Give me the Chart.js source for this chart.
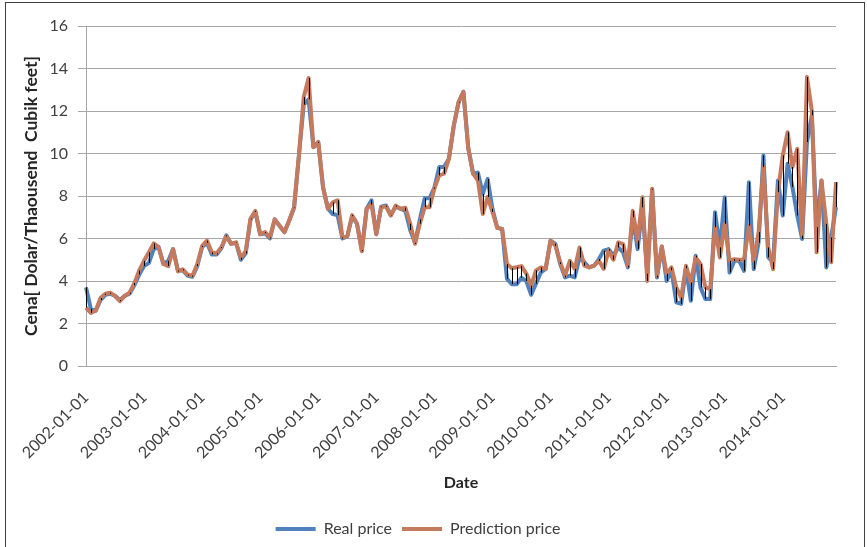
<html>
<head>
<script src="https://cdn.jsdelivr.net/npm/chart.js@4.4.3/dist/chart.umd.min.js"></script>
<style>
  body { margin: 0; background: #fff; }
  #wrap { width: 867px; height: 547px; }
</style>
</head>
<body>
<div id="wrap"><canvas id="mychart" width="867" height="547"></canvas></div>
<script>
    // monthly, 2002-01 .. 2014-12
    const years = [2002, 2003, 2004, 2005, 2006, 2007, 2008, 2009, 2010, 2011, 2012, 2013, 2014];
    const months = ['01', '02', '03', '04', '05', '06', '07', '08', '09', '10', '11', '12'];

    const real_price = [
        3.7, 2.7, 2.6, 3.1, 3.35, 3.4, 3.3, 3.1, 3.3, 3.4, 3.8, 4.3,
        4.7, 4.85, 5.5, 5.6, 4.8, 4.95, 5.5, 4.5, 4.5, 4.25, 4.2, 4.7,
        5.6, 5.8, 5.25, 5.25, 5.55, 6.15, 5.75, 5.8, 5.0, 5.3, 6.9, 7.25,
        6.2, 6.25, 6.0, 6.9, 6.6, 6.3, 6.85, 7.45, 9.9, 12.3, 12.55, 10.3,
        10.5, 8.4, 7.4, 7.15, 7.1, 6.0, 6.1, 7.05, 6.7, 5.45, 7.4, 7.8,
        6.2, 7.5, 7.55, 7.1, 7.5, 7.4, 7.3, 6.4, 5.8, 6.9, 7.9, 7.9,
        8.4, 9.36, 9.36, 9.75, 11.3, 12.4, 12.9, 10.25, 9.05, 9.1, 8.1, 8.8,
        7.4, 6.5, 6.45, 4.1, 3.85, 3.85, 4.15, 4.0, 3.35, 3.87, 4.4, 4.57,
        5.9, 5.75, 4.8, 4.17, 4.25, 4.17, 5.1, 4.88, 4.64, 4.72, 5.03, 5.43,
        5.5, 5.2, 5.58, 5.35, 4.64, 7.0, 5.5, 7.47, 4.34, 8.3, 4.17, 5.62,
        4.0, 4.5, 2.99, 2.92, 4.6, 3.07, 5.19, 3.7, 3.15, 3.15, 7.24, 5.58,
        7.94, 4.4, 4.95, 4.95, 4.48, 8.65, 4.56, 5.8, 9.91, 5.11, 4.88, 8.73,
        7.08, 9.52, 8.42, 7.08, 5.98, 10.54, 11.8, 6.53, 8.73, 4.64, 6.05, 7.47
    ];
    const prediction_price = [
        2.75, 2.5, 2.6, 3.2, 3.4, 3.45, 3.3, 3.05, 3.3, 3.45, 3.9, 4.5,
        4.95, 5.35, 5.77, 5.6, 4.8, 4.7, 5.5, 4.45, 4.55, 4.3, 4.25, 4.8,
        5.65, 5.9, 5.35, 5.3, 5.6, 6.1, 5.75, 5.82, 5.1, 5.4, 6.93, 7.3,
        6.2, 6.3, 6.05, 6.9, 6.6, 6.3, 6.85, 7.47, 9.9, 12.66, 13.55, 10.3,
        10.55, 8.4, 7.4, 7.7, 7.8, 6.05, 6.1, 7.1, 6.7, 5.4, 7.4, 7.6,
        6.2, 7.47, 7.5, 7.08, 7.55, 7.4, 7.45, 6.7, 5.75, 6.7, 7.47, 7.47,
        8.35, 8.97, 9.05, 9.75, 11.3, 12.43, 12.9, 10.25, 9.05, 8.73, 7.15, 7.95,
        7.25, 6.5, 6.45, 4.8, 4.6, 4.65, 4.7, 4.35, 3.78, 4.5, 4.64, 4.57,
        5.9, 5.66, 4.88, 4.25, 4.95, 4.57, 5.58, 4.72, 4.64, 4.72, 4.95, 4.57,
        5.43, 5.0, 5.82, 5.74, 4.72, 7.3, 5.9, 7.94, 4.0, 8.34, 4.25, 5.62,
        4.34, 4.64, 3.7, 3.22, 4.72, 3.93, 5.11, 4.8, 3.7, 3.62, 6.53, 5.11,
        6.69, 4.95, 5.03, 5.0, 5.0, 6.6, 4.95, 6.3, 9.36, 5.58, 4.56, 8.18,
        9.91, 11.0, 9.36, 10.22, 6.13, 13.6, 12.03, 5.35, 8.73, 6.69, 4.88, 8.65
    ];

    let labels = [];
    years.forEach(y => months.forEach(m => labels.push(y + '-' + m + '-01')));

    const FONT = 'Lato, "Open Sans", sans-serif';
    const GRID = '#a6a6a6';

    // thin black lines between the two series (excel high-low lines)
    const hiLoLines = {
        id: 'hiLoLines',
        afterDatasetsDraw(chart) {
            const ctx = chart.ctx, xs = chart.scales.x, ys = chart.scales.y;
            ctx.save();
            ctx.strokeStyle = '#000';
            ctx.lineWidth = 1;
            ctx.beginPath();
            for (let i = 0; i < labels.length; i++) {
                const x = Math.round(xs.getPixelForValue(i)) + 0.5;
                ctx.moveTo(x, ys.getPixelForValue(real_price[i]));
                ctx.lineTo(x, ys.getPixelForValue(prediction_price[i]));
            }
            ctx.stroke();
            ctx.restore();
        }
    };

    const frame = {
        id: 'frame',
        beforeDraw(chart) {
            const ctx = chart.ctx;
            ctx.save();
            ctx.fillStyle = '#fff';
            ctx.fillRect(0, 0, chart.width, chart.height);
            ctx.strokeStyle = '#404040';
            ctx.lineWidth = 1;
            ctx.strokeRect(5.5, 2.5, chart.width - 8, chart.height + 10);
            ctx.restore();
        }
    };

    let config = {
        type: 'line',
        data: {
            labels: labels,
            datasets: [
                {
                    label: 'Real price',
                    data: real_price,
                    borderColor: '#4f81bd',
                    backgroundColor: '#4f81bd',
                    borderWidth: 4,
                    pointRadius: 0,
                    tension: 0,
                    borderJoinStyle: 'round',
                    order: 1
                },
                {
                    label: 'Prediction price',
                    data: prediction_price,
                    borderColor: '#c5795d',
                    backgroundColor: '#c5795d',
                    borderWidth: 4,
                    pointRadius: 0,
                    tension: 0,
                    borderJoinStyle: 'round',
                    order: 0
                }
            ]
        },
        options: {
            responsive: false,
            animation: false,
            layout: { padding: { left: 0, top: 26, right: 31, bottom: 0 } },
            plugins: {
                tooltip: { enabled: false },
                legend: {
                    position: 'bottom',
                    labels: {
                        usePointStyle: true,
                        pointStyle: 'line',
                        pointStyleWidth: 40,
                        color: '#404040',
                        font: { family: FONT, size: 16 },
                        padding: 10,
                        sort: (a, b) => a.datasetIndex - b.datasetIndex
                    }
                }
            },
            scales: {
                x: {
                    offset: false,
                    grid: { display: false },
                    border: { display: true, color: GRID, width: 1 },
                    ticks: {
                        autoSkip: false,
                        minRotation: 45,
                        maxRotation: 45,
                        padding: 14,
                        color: '#404040',
                        font: { family: FONT, size: 16 },
                        callback: function (v, i) { return i % 12 === 0 ? labels[i] : ''; }
                    },
                    title: {
                        display: true,
                        text: 'Date',
                        color: '#262626',
                        font: { family: FONT, size: 16, weight: 'bold' },
                        padding: { top: 4, bottom: 19 }
                    },
                    afterFit: s => { s.height = 145; }
                },
                y: {
                    min: 0,
                    max: 16,
                    ticks: {
                        stepSize: 2,
                        padding: 10,
                        color: '#404040',
                        font: { family: FONT, size: 16 }
                    },
                    grid: { color: GRID, lineWidth: 1, tickLength: 8 },
                    border: { display: true, color: GRID, width: 1 },
                    title: {
                        display: true,
                        text: 'Cena[ Dolar/Thaousend  Cubik feet]',
                        color: '#262626',
                        font: { family: FONT, size: 17.5, weight: 'bold' },
                        padding: { top: 21, bottom: 0 }
                    },
                    afterFit: s => { s.width = 86; }
                }
            }
        },
        plugins: [frame, hiLoLines]
    };

    new Chart(document.getElementById('mychart'), config);
</script>
</body>
</html>
